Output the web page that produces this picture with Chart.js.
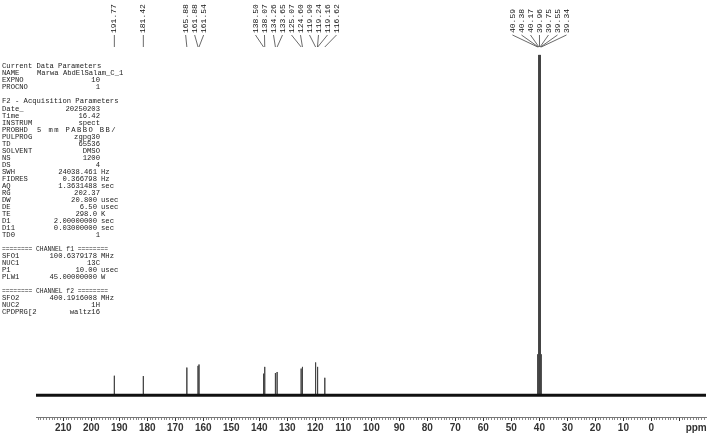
<!DOCTYPE html>
<html><head><meta charset="utf-8">
<script src="https://cdn.jsdelivr.net/npm/chart.js@4"></script>
<style>html,body{margin:0;padding:0;background:#fff;}canvas{display:block}</style>
</head><body>
<canvas id="c" width="708" height="440"></canvas>
<script>
// ---- data ----
const peakPpm = [191.77, 181.42, 165.88, 161.88, 161.54, 138.50, 138.07, 134.26, 133.65, 125.07, 124.60, 119.90, 119.24, 119.16, 116.62, 40.59, 40.38, 40.17, 39.96, 39.75, 39.55, 39.34];
const peakHeight = [5.7, 5.6, 8.1, 8.6, 9.0, 6.3, 8.3, 6.5, 6.8, 7.8, 8.3, 9.6, 8.3, 8.0, 5.1, 12, 44, 100, 100, 100, 44, 12];
const axisRange = [-19.5, 219.75];
const tickLabelValues = [210, 200, 190, 180, 170, 160, 150, 140, 130, 120, 110, 100, 90, 80, 70, 60, 50, 40, 30, 20, 10, 0];
const axisUnit = 'ppm';
const axisUnitAt = -16;
const paramNames = ['Current Data Parameters','NAME','EXPNO','PROCNO','',
 'F2 - Acquisition Parameters','Date_','Time','INSTRUM','PROBHD','PULPROG','TD','SOLVENT','NS','DS','SWH','FIDRES','AQ','RG','DW','DE','TE','D1','D11','TD0','',
 '======== CHANNEL f1 ========','SFO1','NUC1','P1','PLW1','',
 '======== CHANNEL f2 ========','SFO2','NUC2','CPDPRG[2'];
const paramValues = ['','Marwa AbdElSalam_C_1','10','1','',
 '','20250203','16.42','spect','5 mm PABBO BB/','zgpg30','65536','DMSO','1200','4','24038.461','0.366798','1.3631488','202.37','20.800','6.50','298.0','2.00000000','0.03000000','1','',
 '','100.6379178','13C','10.00','45.00000000','',
 '','400.1916008','1H','waltz16'];
const paramUnits = ['','','','','',
 '','','','','','','','','','','Hz','Hz','sec','','usec','usec','K','sec','sec','','',
 '','MHz','','usec','W','',
 '','MHz','',''];

// ---- build line data ----
const baselineData = [{x: axisRange[1], y: 0}, {x: axisRange[0], y: 0}];
const peakData = [];
peakPpm.forEach((p, i) => {
  peakData.push({x: p, y: 0}, {x: p, y: peakHeight[i]}, {x: p, y: 0});
});

function spreadLabels(xs, gap) {
  let clusters = xs.map((x, i) => ({idx: [i], center: x}));
  let changed = true;
  while (changed) {
    changed = false;
    for (let i = 0; i < clusters.length - 1; i++) {
      const a = clusters[i], b = clusters[i + 1];
      const aRight = a.center + (a.idx.length - 1) * gap / 2;
      const bLeft = b.center - (b.idx.length - 1) * gap / 2;
      if (bLeft - aRight < gap) {
        const idx = a.idx.concat(b.idx);
        const center = idx.reduce((s, k) => s + xs[k], 0) / idx.length;
        clusters.splice(i, 2, {idx, center});
        changed = true; break;
      }
    }
  }
  const out = [];
  clusters.forEach(c => c.idx.forEach((k, j) => out[k] = c.center + (j - (c.idx.length - 1) / 2) * gap));
  return out;
}

const annotate = {
  id: 'annotate',
  afterDraw(chart) {
    const ctx = chart.ctx;
    const xs = chart.scales.x;
    const px = peakPpm.map(p => xs.getPixelForValue(p));
    const lx = spreadLabels(px, 9.0);
    ctx.save();
    ctx.strokeStyle = '#444';
    ctx.lineWidth = 0.8;
    px.forEach((x, i) => {
      ctx.beginPath();
      ctx.moveTo(lx[i], 35);
      ctx.lineTo(x, 47);
      ctx.stroke();
    });
    ctx.fillStyle = '#111';
    ctx.font = '8px "Liberation Mono"';
    ctx.textAlign = 'left';
    ctx.textBaseline = 'middle';
    peakPpm.forEach((p, i) => {
      ctx.save();
      ctx.translate(lx[i], 33);
      ctx.rotate(-Math.PI / 2);
      ctx.fillText(p.toFixed(2), 0, 0);
      ctx.restore();
    });
    // parameter block
    ctx.fillStyle = '#222';
    ctx.font = '7.2px "Liberation Mono"';
    ctx.textBaseline = 'middle';
    paramNames.forEach((n, i) => {
      const y = 66.5 + i * 7.02;
      const v = paramValues[i], u = paramUnits[i];
      ctx.textAlign = 'left';
      if (n.startsWith('====')) { ctx.fillText(n, 2, y, 106); return; }
      ctx.fillText(n, 2, y);
      if (!v) return;
      if (n === 'NAME') { ctx.fillText(v, 37, y); return; }
      if (n === 'PROBHD') {
        ctx.letterSpacing = '1.4px';
        ctx.fillText(v, 37, y);
        ctx.letterSpacing = '0px';
        return;
      }
      ctx.textAlign = 'right';
      ctx.fillText(v, u ? 97 : 100, y);
      if (u) { ctx.textAlign = 'left'; ctx.fillText(u, 101, y); }
    });
    ctx.restore();
  }
};

const isMajor = v => Math.abs(v % 10) < 1e-6;

new Chart(document.getElementById('c'), {
  type: 'line',
  data: {
    datasets: [
      {data: baselineData, borderColor: '#111', borderWidth: 3, pointRadius: 0, tension: 0},
      {data: peakData, borderColor: '#444', borderWidth: 1, pointRadius: 0, tension: 0, borderJoinStyle: 'bevel'}
    ]
  },
  options: {
    responsive: false,
    animation: false,
    events: [],
    layout: {padding: {left: 36, right: 2, top: 40, bottom: 5}},
    plugins: {legend: {display: false}, tooltip: {enabled: false}},
    scales: {
      x: {
        type: 'linear',
        reverse: true,
        min: axisRange[0],
        max: axisRange[1],
        afterBuildTicks: axis => {
          const t = [];
          for (let v = Math.ceil(axisRange[0]); v <= Math.floor(axisRange[1]); v++) t.push({value: v});
          axis.ticks = t;
        },
        border: {display: true, color: '#777', width: 1},
        grid: {
          drawOnChartArea: false,
          drawTicks: true,
          tickLength: 4,
          tickWidth: 1,
          tickColor: c => isMajor(c.tick.value) ? '#333' : '#888',
          tickBorderDash: c => isMajor(c.tick.value) ? [] : [2, 10]
        },
        ticks: {
          autoSkip: false,
          maxRotation: 0,
          minRotation: 0,
          padding: 1,
          color: '#333',
          font: {family: 'Liberation Sans', size: 10, weight: 'bold'},
          callback: v => {
            const r = Math.round(v);
            if (r === axisUnitAt) return axisUnit;
            return tickLabelValues.includes(r) ? String(r) : '';
          }
        }
      },
      y: {display: false, min: -6.43, max: 104.39}
    }
  },
  plugins: [annotate]
});
</script>
</body></html>
